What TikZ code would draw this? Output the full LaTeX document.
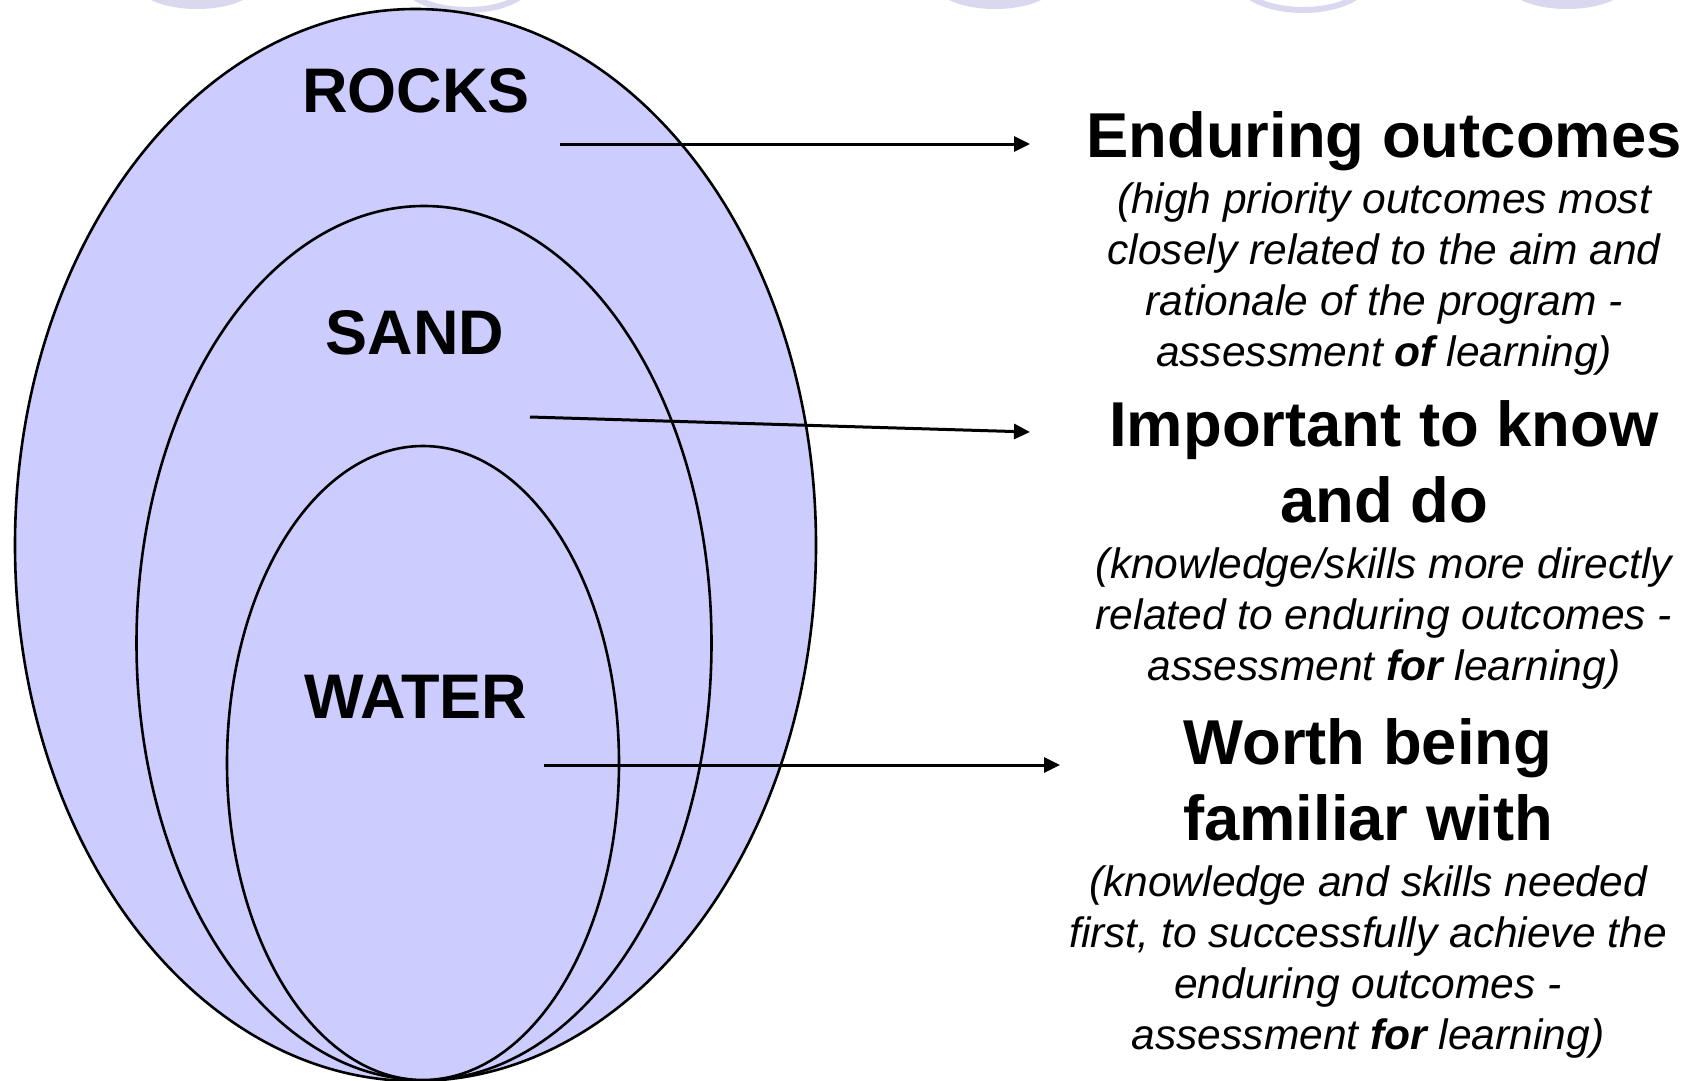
\documentclass[tikz,border=0pt]{standalone}
\usepackage{fontspec}
\setmainfont{Liberation Sans}
\usetikzlibrary{arrows.meta}
\definecolor{fillc}{HTML}{CCCCFF}
\definecolor{ghost}{HTML}{DAD8EE}
\begin{document}
\begin{tikzpicture}[x=1pt,y=-1pt,
  oval/.style={draw=black,line width=2.6pt,fill=fillc},
  conn/.style={line width=3pt,-{Triangle[length=16pt,width=15pt]}},
  head/.style={font=\fontsize{63.4}{76}\selectfont\bfseries, anchor=base, inner sep=0pt},
  sub/.style={font=\fontsize{42.5}{51}\selectfont\itshape, anchor=base, inner sep=0pt},
  lbl/.style={font=\fontsize{63}{76}\selectfont\bfseries, anchor=base, inner sep=0pt},
  ghostfill/.style={fill=ghost},
  ghostring/.style={draw=ghost,line width=6pt}]
\useasboundingbox (0,0) rectangle (1695,1081);
% faint decorative shapes at the top edge
\begin{scope}
  \clip (0,0) rectangle (1695,1081);
  \fill[ghostfill] (197,-16) ellipse [x radius=60pt, y radius=25pt];
  \draw[ghostring] (467,-20) ellipse [x radius=64pt, y radius=30pt];
  \fill[ghostfill] (995,-16) ellipse [x radius=60pt, y radius=25pt];
  \draw[ghostring] (1303,-20) ellipse [x radius=64pt, y radius=30pt];
  \fill[ghostfill] (1567,-16) ellipse [x radius=60pt, y radius=25pt];
\end{scope}
% nested ovals
\draw[oval] (415.5,545) ellipse [x radius=400.5pt, y radius=536pt];
\draw[oval] (424,643) ellipse [x radius=287.5pt, y radius=437pt];
\draw[oval] (423,763) ellipse [x radius=196pt, y radius=317pt];
% labels inside
\node[lbl] (rocks) at (416,112) {ROCKS};
\node[lbl] (sand) at (415,354) {SAND};
\node[lbl] (water) at (416,718) {WATER};
% right column, block 1
\node[head] (h1) at (1384,157) {Enduring outcomes};
\node[sub] (s1a) at (1384,213) {(high priority outcomes most};
\node[sub] (s1b) at (1384,264) {closely related to the aim and};
\node[sub] (s1c) at (1384,315) {rationale of the program -};
\node[sub] (s1d) at (1384,366) {assessment \textbf{of} learning)};
% block 2
\node[head] (h2a) at (1384,446) {Important to know};
\node[head] (h2b) at (1384,522) {and do};
\node[sub] (s2a) at (1384,578) {(knowledge/skills more directly};
\node[sub] (s2b) at (1384,629) {related to enduring outcomes -};
\node[sub] (s2c) at (1384,680) {assessment \textbf{for} learning)};
% block 3
\node[head] (h3a) at (1368,764) {Worth being};
\node[head] (h3b) at (1368,840) {familiar with};
\node[sub] (s3a) at (1368,896) {(knowledge and skills needed};
\node[sub] (s3b) at (1368,947) {first, to successfully achieve the};
\node[sub] (s3c) at (1368,998) {enduring outcomes -};
\node[sub] (s3d) at (1368,1049) {assessment \textbf{for} learning)};
% connectors
\coordinate (a1s) at (560,144);
\coordinate (a1e) at (1030,144);
\coordinate (a2s) at (530,417);
\coordinate (a2e) at (1030,432);
\coordinate (a3s) at (544,765);
\coordinate (a3e) at (1060,765);
\draw[conn] (a1s) -- (a1e);
\draw[conn] (a2s) -- (a2e);
\draw[conn] (a3s) -- (a3e);
\end{tikzpicture}
\end{document}
